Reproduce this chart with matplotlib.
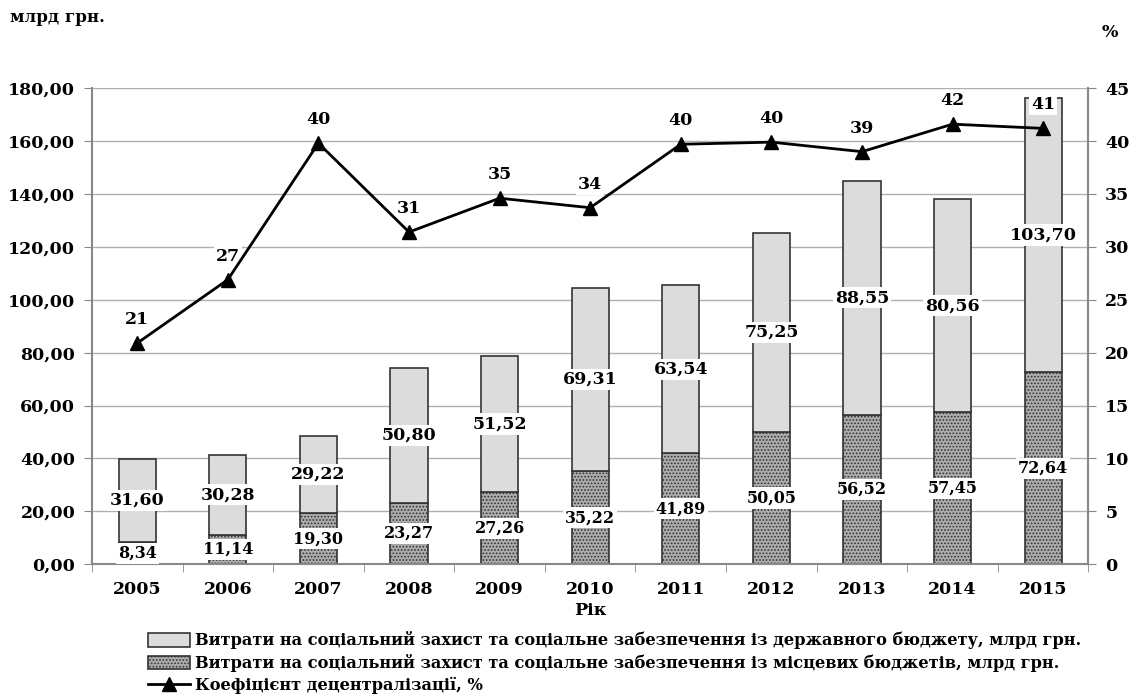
import matplotlib.pyplot as plt
import numpy as np
from matplotlib.ticker import FuncFormatter, FixedLocator
from matplotlib.patches import Patch
from matplotlib.lines import Line2D

# data
years = ['2005', '2006', '2007', '2008', '2009', '2010', '2011', '2012', '2013', '2014', '2015']
local_budget = [8.34, 11.14, 19.30, 23.27, 27.26, 35.22, 41.89, 50.05, 56.52, 57.45, 72.64]
state_budget = [31.60, 30.28, 29.22, 50.80, 51.52, 69.31, 63.54, 75.25, 88.55, 80.56, 103.70]
decentr = [20.9, 26.9, 39.8, 31.4, 34.6, 33.7, 39.7, 39.9, 39.0, 41.6, 41.2]
decentr_labels = ['21', '27', '40', '31', '35', '34', '40', '40', '39', '42', '41']

plt.rcParams['font.family'] = ['DejaVu Serif']
plt.rcParams['font.weight'] = 'bold'
plt.rcParams['hatch.color'] = '#444444'
plt.rcParams['hatch.linewidth'] = 0.8

fig = plt.figure(figsize=(11.35, 7), dpi=100)
ax = fig.add_axes([0.081, 0.194, 0.878, 0.68])

x = np.arange(len(years))
w = 0.41

ax.set_axisbelow(True)
ax.yaxis.grid(True, color='#b0b0b0', linewidth=1)

ax.bar(x, local_budget, w, color='#adadad', edgecolor='#333333', hatch='.....',
       linewidth=1.2, zorder=2)
ax.bar(x, state_budget, w, bottom=local_budget, color='#dcdcdc', edgecolor='#333333',
       linewidth=1.2, zorder=2)

box = dict(facecolor='white', edgecolor='none', pad=1.5)
for i in range(len(years)):
    ax.text(x[i], local_budget[i] / 2, f'{local_budget[i]:.2f}'.replace('.', ','),
            ha='center', va='center', fontsize=11.5, fontweight='bold', bbox=box, zorder=5)
    ax.text(x[i], local_budget[i] + state_budget[i] / 2, f'{state_budget[i]:.2f}'.replace('.', ','),
            ha='center', va='center', fontsize=12.5, fontweight='bold', bbox=box, zorder=5)

ax.set_xlim(-0.5, len(years) - 0.5)
ax.set_ylim(0, 180)
ax.set_yticks(np.arange(0, 181, 20))
ax.yaxis.set_major_formatter(FuncFormatter(lambda v, p: f'{v:.2f}'.replace('.', ',')))
ax.set_xticks(x)
ax.set_xticklabels(years)
ax.xaxis.set_minor_locator(FixedLocator(np.arange(-0.5, len(years), 1)))
ax.tick_params(axis='x', which='major', length=0, pad=12, labelsize=12.5)
ax.tick_params(axis='x', which='minor', length=6, color='#888888', direction='out')
ax.tick_params(axis='y', length=6, color='#888888', labelsize=12.5, pad=6)
for s in ['left', 'right', 'bottom']:
    ax.spines[s].set_color('#888888')
    ax.spines[s].set_linewidth(1.5)
ax.spines['top'].set_visible(False)
ax.set_xlabel('Рік', fontsize=12.5, fontweight='bold', labelpad=3)

ax2 = ax.twinx()
ax2.set_ylim(0, 45)
ax2.set_yticks(np.arange(0, 46, 5))
ax2.tick_params(axis='y', length=6, color='#888888', labelsize=12.5, pad=6)
for s in ax2.spines.values():
    s.set_visible(False)
ax2.plot(x, decentr, color='black', linewidth=2, marker='^', markersize=10, zorder=4)
for i in range(len(years)):
    ax2.annotate(decentr_labels[i], (x[i], decentr[i]), xytext=(0, 17), textcoords='offset points',
                 ha='center', va='center', fontsize=12.5, fontweight='bold',
                 bbox=dict(facecolor='white', edgecolor='none', pad=1.5))

fig.text(0.009, 0.975, 'млрд грн.', fontsize=12, fontweight='bold', va='center')
fig.text(0.978, 0.953, '%', fontsize=12.5, fontweight='bold', va='center', ha='center')

handles = [
    Patch(facecolor='#dcdcdc', edgecolor='#333333', linewidth=1.2),
    Patch(facecolor='#adadad', edgecolor='#333333', hatch='.....', linewidth=1.2),
    Line2D([0], [0], color='black', linewidth=2, marker='^', markersize=10),
]
labels = [
    'Витрати на соціальний захист та соціальне забезпечення із державного бюджету, млрд грн.',
    'Витрати на соціальний захист та соціальне забезпечення із місцевих бюджетів, млрд грн.',
    'Коефіцієнт децентралізації, %',
]
fig.legend(handles, labels, loc='upper left', bbox_to_anchor=(0.13, 0.098), frameon=False,
           fontsize=11.7, handlelength=2.6, handleheight=0.9, handletextpad=0.3,
           labelspacing=0.3, borderaxespad=0, borderpad=0)

fig.savefig('out.png', dpi=100)
